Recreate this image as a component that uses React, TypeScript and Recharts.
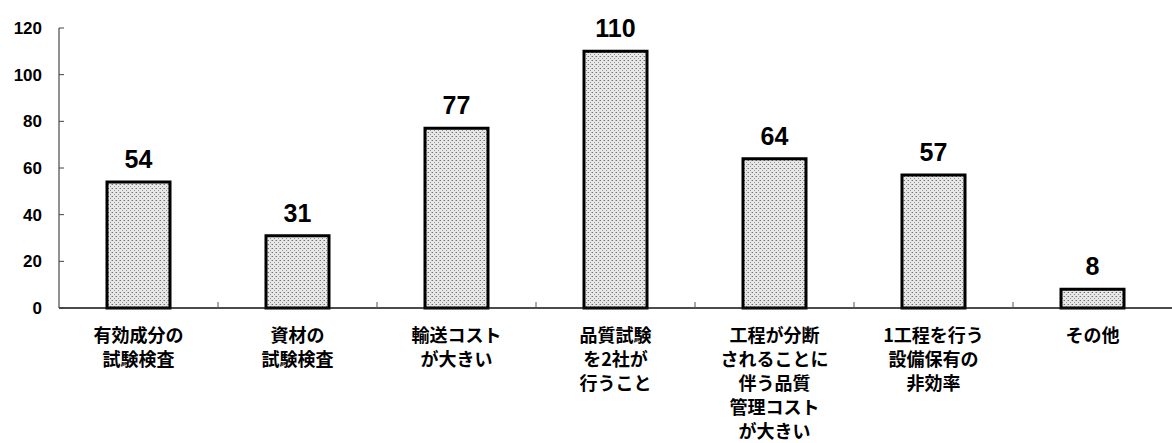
import { Bar, BarChart, LabelList, XAxis, YAxis } from 'recharts'

const categories = [
  '有効成分の\n試験検査',
  '資材の\n試験検査',
  '輸送コスト\nが大きい',
  '品質試験\nを2社が\n行うこと',
  '工程が分断\nされることに\n伴う品質\n管理コスト\nが大きい',
  '1工程を行う\n設備保有の\n非効率',
  'その他',
]
const counts = [54, 31, 77, 110, 64, 57, 8]
const yTicks = [0, 20, 40, 60, 80, 100, 120]

const W = 1172
const H = 443
const AXIS_W = 59
const TOP = 28
const X_AXIS_H = 135
const BAND = (W - AXIS_W) / categories.length
const Y_GAP = 17

const data = categories.map((name, i) => ({ name, value: counts[i] }))

const JP_FONT = '"Noto Sans CJK JP", "Noto Sans", sans-serif'
const NUM_FONT = '"Liberation Sans", Arial, sans-serif'

function CategoryTick(props: any) {
  const { x, y, payload, index } = props
  const lines = String(payload.value).split('\n')
  return (
    <g>
      {index > 0 && (
        <line x1={x - BAND / 2} x2={x - BAND / 2} y1={y - 6} y2={y} stroke="#555" strokeWidth={1} />
      )}
      <text
        x={x}
        y={y + 34}
        textAnchor="middle"
        fontFamily={JP_FONT}
        fontWeight="bold"
        fontSize={18}
        fill="#000"
      >
        {lines.map((l, i) => (
          <tspan key={i} x={x} dy={i === 0 ? 0 : 24}>
            {l}
          </tspan>
        ))}
      </text>
    </g>
  )
}

function ValueTick(props: any) {
  const { x, y, payload } = props
  return (
    <g>
      <line x1={x + Y_GAP} x2={x + Y_GAP + 5} y1={y} y2={y} stroke="#444" strokeWidth={1} />
      <text
        x={x}
        y={y}
        dy={6}
        textAnchor="end"
        fontFamily={NUM_FONT}
        fontWeight="bold"
        fontSize={17}
        fill="#000"
      >
        {payload.value}
      </text>
    </g>
  )
}

export default function App() {
  return (
    <div style={{ position: 'absolute', left: 0, top: 0, background: '#fff' }}>
      <BarChart
        width={W}
        height={H}
        data={data}
        margin={{ top: TOP, right: 0, bottom: 0, left: 0 }}
      >
        <defs>
          <pattern id="stipple" width="4" height="4" patternUnits="userSpaceOnUse">
            <rect width="4" height="4" fill="#e8e8e8" />
            <rect x="0" y="0" width="1" height="1" fill="#6e6e6e" />
            <rect x="2" y="2" width="1" height="1" fill="#8e8e8e" />
            <rect x="3" y="0" width="1" height="1" fill="#b5b5b5" />
          </pattern>
        </defs>
        <XAxis
          dataKey="name"
          interval={0}
          height={X_AXIS_H}
          tickLine={false}
          tickSize={0}
          tickMargin={0}
          axisLine={{ stroke: '#111', strokeWidth: 1.5 }}
          tick={<CategoryTick />}
        />
        <YAxis
          width={AXIS_W}
          domain={[0, 120]}
          ticks={yTicks}
          tickLine={false}
          tickSize={0}
          tickMargin={Y_GAP}
          axisLine={{ stroke: '#222', strokeWidth: 1 }}
          tick={<ValueTick />}
        />
        <Bar
          dataKey="value"
          barSize={63}
          fill="url(#stipple)"
          stroke="#000"
          strokeWidth={3}
          isAnimationActive={false}
        >
          <LabelList
            dataKey="value"
            position="top"
            offset={14}
            fontFamily={NUM_FONT}
            fontWeight="bold"
            fontSize={25}
            fill="#000"
          />
        </Bar>
      </BarChart>
    </div>
  )
}
